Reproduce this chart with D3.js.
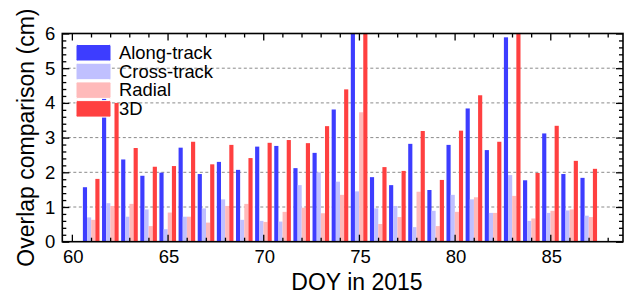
<!DOCTYPE html>
<html>
<head>
<meta charset="utf-8">
<script src="https://cdn.jsdelivr.net/npm/d3@7"></script>
<style>
  body { margin: 0; background: #fff; }
  text { font-family: "Liberation Sans", Arial, Helvetica, sans-serif; fill: #000; }
</style>
</head>
<body>
<svg id="chart" width="627" height="294"></svg>
<script>
'use strict';
// data (values above 6 are clipped by the axis)
var days = [61, 62, 63, 64, 65, 66, 67, 68, 69, 70, 71, 72, 73, 74,
  75, 76, 77, 78, 79, 80, 81, 82, 83, 84, 85, 86, 87];
var alongTrack = [1.57, 4.4, 2.37, 1.90, 1.99, 2.71, 1.95, 2.30, 2.07, 2.74, 2.76, 2.12, 2.56, 3.81,
  7.0, 1.86, 1.63, 2.82, 1.49, 2.79, 3.84, 2.64, 5.89, 1.77, 3.12, 1.95, 1.84];
var crossTrack = [0.70, 1.11, 0.72, 0.93, 0.36, 0.72, 0.96, 1.22, 0.63, 0.60, 0.58, 1.63, 2.00, 1.73,
  1.45, 0.96, 1.03, 0.42, 0.89, 1.35, 1.22, 0.83, 1.92, 0.60, 0.83, 0.90, 0.75];
var radial = [0.63, 1.03, 1.09, 0.45, 0.84, 0.72, 0.55, 1.03, 1.09, 0.57, 0.86, 0.98, 0.82, 1.35,
  3.73, 0.51, 0.71, 1.44, 0.45, 0.86, 1.28, 0.83, 1.32, 0.67, 0.89, 0.93, 0.71];
var total3D = [1.81, 4.0, 2.70, 2.16, 2.18, 2.88, 2.23, 2.79, 2.41, 2.85, 2.93, 2.84, 3.33, 4.39,
  7.5, 2.15, 2.04, 3.19, 1.78, 3.20, 4.22, 2.88, 6.8, 1.98, 3.34, 2.33, 2.10];
var seriesNames = ['Along-track', 'Cross-track', 'Radial', '3D'];
var xTicks = [60, 65, 70, 75, 80, 85];
var yTicks = [0, 1, 2, 3, 4, 5, 6];

var COLORS = ['#3d3dff', '#c0c0ff', '#ffbaba', '#ff4040'];
var MARGINS = { top: 33.5, right: 4, bottom: 52.3, left: 62.3 };
var WIDTH = 627, HEIGHT = 294;

var series = [alongTrack, crossTrack, radial, total3D];

var svg = d3.select('#chart');
var x = d3.scaleLinear().domain([59.5, 88.8]).range([MARGINS.left, WIDTH - MARGINS.right]);
var y = d3.scaleLinear().domain([0, 6]).range([HEIGHT - MARGINS.bottom, MARGINS.top]);
var x0 = x.range()[0], x1 = x.range()[1], y0 = y.range()[0], y1 = y.range()[1];

svg.append('clipPath').attr('id', 'plot')
  .append('rect').attr('x', x0).attr('y', y1).attr('width', x1 - x0).attr('height', y0 - y1);

// grid
svg.append('g').selectAll('line')
  .data(yTicks.slice(1, -1))
  .enter().append('line')
  .attr('x1', x0).attr('x2', x1)
  .attr('y1', function(d) { return y(d); })
  .attr('y2', function(d) { return y(d); })
  .attr('stroke', '#8a8a8a')
  .attr('stroke-width', 1)
  .attr('stroke-dasharray', '3,2.5');

// bars
var barW = 0.217;
var bars = svg.append('g').attr('clip-path', 'url(#plot)');
series.forEach(function(values, s) {
  bars.selectAll('.s' + s)
    .data(values)
    .enter().append('rect')
    .attr('class', 's' + s)
    .attr('x', function(d, i) { return x(days[i] + (s - 2) * barW + 0.01); })
    .attr('width', x(barW) - x(0))
    .attr('y', function(d) { return y(d); })
    .attr('height', function(d) { return y(0) - y(d); })
    .attr('fill', COLORS[s]);
});

// axes with inward ticks on all four sides
var dayTicks = d3.range(60, 89);
var minorY = d3.range(0, 6.01, 0.2).map(function(v) { return Math.round(v * 10) / 10; });

function drawAxis(axis, pos, tickVals, size) {
  svg.append('g')
    .attr('transform', pos)
    .call(axis.tickValues(tickVals).tickSize(size).tickFormat(''))
    .call(function(g) { g.select('.domain').remove(); })
    .selectAll('line').attr('stroke', '#000').attr('stroke-width', 1.3);
}
var minorDays = dayTicks.filter(function(d) { return d % 5 !== 0; });
drawAxis(d3.axisBottom(x), 'translate(0,' + y0 + ')', minorDays, -4);
drawAxis(d3.axisBottom(x), 'translate(0,' + y0 + ')', xTicks, -7);
drawAxis(d3.axisTop(x), 'translate(0,' + y1 + ')', minorDays, -4);
drawAxis(d3.axisTop(x), 'translate(0,' + y1 + ')', xTicks, -7);
var minorYs = minorY.filter(function(v) { return Math.abs(v - Math.round(v)) > 0.01; });
drawAxis(d3.axisLeft(y), 'translate(' + x0 + ',0)', minorYs, -4);
drawAxis(d3.axisLeft(y), 'translate(' + x0 + ',0)', yTicks, -7);
drawAxis(d3.axisRight(y), 'translate(' + x1 + ',0)', minorYs, -4);
drawAxis(d3.axisRight(y), 'translate(' + x1 + ',0)', yTicks, -7);

svg.append('rect')
  .attr('x', x0).attr('y', y1).attr('width', x1 - x0).attr('height', y0 - y1)
  .attr('fill', 'none').attr('stroke', '#000').attr('stroke-width', 1.6);

// tick labels
svg.append('g').selectAll('text')
  .data(xTicks)
  .enter().append('text')
  .attr('x', function(d) { return x(d) + 1.5; })
  .attr('y', y0 + 21)
  .attr('text-anchor', 'middle')
  .attr('font-size', 18.5)
  .text(function(d) { return d; });

svg.append('g').selectAll('text')
  .data(yTicks)
  .enter().append('text')
  .attr('x', x0 - 7)
  .attr('y', function(d) { return y(d) + 6.5; })
  .attr('text-anchor', 'end')
  .attr('font-size', 18.5)
  .text(function(d) { return d; });

// axis titles
svg.append('text')
  .attr('x', 357).attr('y', 290)
  .attr('text-anchor', 'middle')
  .attr('font-size', 23)
  .text('DOY in 2015');

svg.append('text')
  .attr('transform', 'translate(34,' + ((y0 + y1) / 2) + ') rotate(-90)')
  .attr('text-anchor', 'middle')
  .attr('font-size', 23)
  .text('Overlap comparison (cm)');

// legend
var legend = svg.append('g').selectAll('g')
  .data(seriesNames)
  .enter().append('g')
  .attr('transform', function(d, i) { return 'translate(76,' + (44.5 + i * 18.7) + ')'; });
legend.append('rect')
  .attr('width', 35).attr('height', 16.5)
  .attr('rx', 1.5)
  .attr('fill', function(d, i) { return COLORS[i]; })
  .attr('stroke', '#fff').attr('stroke-width', 1);
legend.append('text')
  .attr('x', 43).attr('y', 14.5)
  .attr('font-size', 18.4)
  .text(function(d) { return d; });
</script>
</body>
</html>
